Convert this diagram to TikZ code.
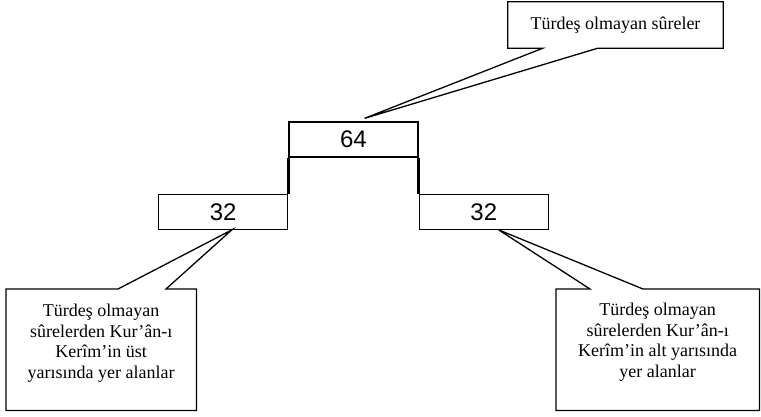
\documentclass[tikz,border=0pt]{standalone}
\usepackage{fontspec}
\setmainfont{Liberation Serif}
\newfontfamily\arialf{Liberation Sans}
\usetikzlibrary{positioning}

\begin{document}
\begin{tikzpicture}[x=1pt,y=-1pt,
    sayi/.style={draw,line width=1.3pt,minimum width=129pt,minimum height=35pt,inner sep=0pt,font=\arialf\fontsize{24}{24}\selectfont},
    notkutu/.style={inner sep=0pt,minimum width=190pt,minimum height=121pt},
    metin/.style={align=center,inner sep=0pt,font=\fontsize{18}{20.5}\selectfont},
    balon/.style={line width=1.3pt,line join=miter}]
\useasboundingbox (0,0) rectangle (761,416);
    %Sayilar
    \node[sayi] (ust) at (353.5,139.5) {64};
    \node[sayi,below left=36pt and 0pt of ust.south west] (sol) {32};
    \node[sayi,below right=36pt and 0pt of ust.south east] (sag) {32};
    \draw[line width=3pt] (ust.south west) -- (sol.north east);
    \draw[line width=3pt] (ust.south east) -- (sag.north west);

    %Baslik
    \node[metin,minimum width=215pt,minimum height=46pt] (baslik) at (615.5,25) {T\"urde\c{s} olmayan s\^ureler};
    \coordinate (u1) at ([xshift=11pt,yshift=3pt]ust.north);
    \draw[balon] (baslik.south west) -- ([xshift=35pt]baslik.south west) -- (u1)
        -- ([xshift=90pt]baslik.south west) -- (baslik.south east) -- (baslik.north east)
        -- (baslik.north west) -- cycle;

    %Alt notlar
    \node[notkutu,anchor=north west] (solnot) at (6,289) {};
    \node[metin,below=15pt of solnot.north] (solmetin) {T\"urde\c{s} olmayan\\s\^urelerden Kur’\^an-ı\\Ker\^im’in \"ust\\yarısında yer alanlar};
    \coordinate (s1) at ([xshift=8.5pt]sol.south);
    \draw[balon] (solnot.north west) -- ([xshift=112pt]solnot.north west) -- (s1)
        -- ([xshift=160pt]solnot.north west) -- (solnot.north east) -- (solnot.south east)
        -- (solnot.south west) -- cycle;

    \node[notkutu,minimum width=203pt,anchor=north west] (sagnot) at (556,289) {};
    \node[metin,below=14pt of sagnot.north] (sagmetin) {T\"urde\c{s} olmayan\\s\^urelerden Kur’\^an-ı\\Ker\^im’in alt yarısında\\yer alanlar};
    \coordinate (s2) at ([xshift=15pt]sag.south);
    \draw[balon] (sagnot.north west) -- ([xshift=34pt]sagnot.north west) -- (s2)
        -- ([xshift=87pt]sagnot.north west) -- (sagnot.north east) -- (sagnot.south east)
        -- (sagnot.south west) -- cycle;
\end{tikzpicture}
\end{document}
